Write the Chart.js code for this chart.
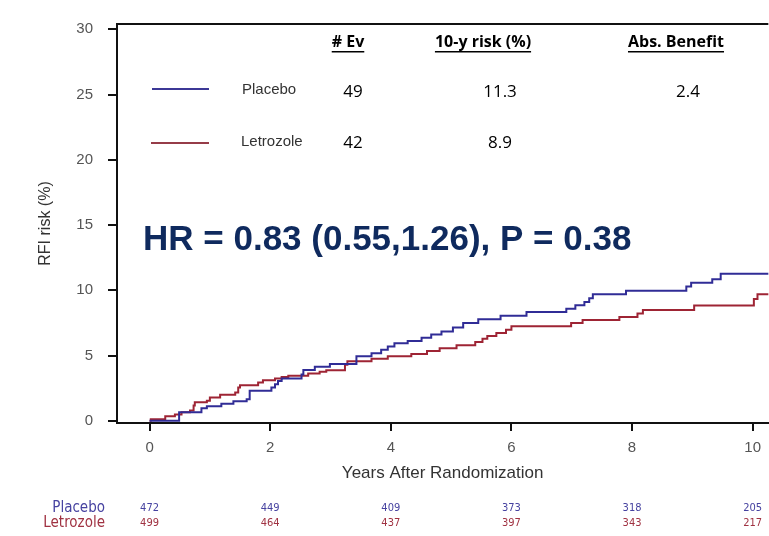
<!DOCTYPE html>
<html>
<head>
    <meta charset="utf-8">
    <title>RFI risk</title>
    <style>
        body { margin: 0; background: #fff; }
        .chart-box { width: 769px; height: 536px; position: relative; }
    </style>
</head>
<body>
    <div class="chart-box"><canvas id="km-chart"></canvas></div>

    <script src="https://cdn.jsdelivr.net/npm/chart.js@4.4.0/dist/chart.umd.min.js"></script>
    <script>
        // Kaplan-Meier curves (years, cumulative RFI risk %)
        var placeboTimes = [0, 0.49, 0.86, 0.95, 1.19, 1.39, 1.61, 1.66, 2.02, 2.08, 2.13, 2.19, 2.52, 2.55, 2.74, 2.99,
            3.43, 3.68, 3.84, 3.95, 4.06, 4.28, 4.51, 4.67, 4.84, 5.03, 5.20, 5.45, 5.82, 6.25, 6.91, 7.06, 7.21, 7.29,
            7.35, 7.90, 8.90, 8.98, 9.33, 9.47, 10.3];
        var placeboRisk = [0, 0.66, 0.97, 1.12, 1.30, 1.49, 1.65, 2.30, 2.55, 2.80, 3.05, 3.25, 3.55, 3.90, 4.15, 4.36,
            4.94, 5.18, 5.44, 5.69, 5.94, 6.12, 6.37, 6.62, 6.85, 7.15, 7.50, 7.78, 8.05, 8.33, 8.58, 8.85, 9.10, 9.40,
            9.70, 9.96, 10.30, 10.57, 10.84, 11.27, 11.27];

        var letrozoleTimes = [0, 0.02, 0.26, 0.42, 0.53, 0.67, 0.73, 0.75, 0.95, 1.00, 1.17, 1.42, 1.47, 1.50, 1.80, 1.88,
            2.08, 2.19, 2.30, 2.63, 2.82, 2.93, 3.24, 3.28, 3.68, 3.95, 4.34, 4.60, 4.81, 5.09, 5.40, 5.52, 5.60, 5.75,
            5.91, 6.00, 6.99, 7.18, 7.79, 8.09, 8.18, 9.03, 10.02, 10.08, 10.3];
        var letrozoleRisk = [0, 0.11, 0.34, 0.49, 0.66, 0.79, 1.17, 1.42, 1.54, 1.79, 2.00, 2.17, 2.55, 2.73, 2.93, 3.10,
            3.25, 3.35, 3.45, 3.63, 3.75, 3.88, 4.30, 4.56, 4.76, 4.94, 5.11, 5.35, 5.55, 5.78, 6.03, 6.28, 6.50, 6.73,
            6.98, 7.24, 7.50, 7.72, 7.95, 8.22, 8.50, 8.83, 9.33, 9.70, 9.70];

        var xTicks = [0, 2, 4, 6, 8, 10];
        var yTicks = [0, 5, 10, 15, 20, 25, 30];

        // number at risk
        var placeboAtRisk = [472, 449, 409, 373, 318, 205];
        var letrozoleAtRisk = [499, 464, 437, 397, 343, 217];

        // table in the plot
        var tableHeaders = ['# Ev', '10-y risk (%)', 'Abs. Benefit'];
        var placeboRow = ['49', '11.3', '2.4'];
        var letrozoleRow = ['42', '8.9', ''];
        var hrText = 'HR = 0.83 (0.55,1.26), P = 0.38';

        var blue = 'rgb(48, 44, 150)';
        var red = 'rgb(158, 36, 52)';

        function toPoints(times, values) {
            return times.map(function (t, i) { return { x: t, y: values[i] }; });
        }

        // everything drawn around the curves: frame top, legend, table, HR, at-risk numbers
        var extrasPlugin = {
            id: 'extras',
            afterDraw: function (chart) {
                var ctx = chart.ctx;
                var area = chart.chartArea;
                var xs = chart.scales.x;
                ctx.save();

                // top of the frame
                ctx.strokeStyle = '#111';
                ctx.lineWidth = 2;
                ctx.beginPath();
                ctx.moveTo(area.left - 1, area.top);
                ctx.lineTo(area.right, area.top);
                ctx.stroke();

                // legend
                ctx.lineWidth = 2;
                ctx.strokeStyle = 'rgb(60, 56, 150)';
                ctx.beginPath(); ctx.moveTo(152, 89); ctx.lineTo(209, 89); ctx.stroke();
                ctx.strokeStyle = 'rgb(150, 60, 72)';
                ctx.beginPath(); ctx.moveTo(151, 143); ctx.lineTo(209, 143); ctx.stroke();

                ctx.font = '15px "Liberation Sans", Arial, sans-serif';
                ctx.fillStyle = '#333';
                ctx.textAlign = 'left';
                ctx.textBaseline = 'middle';
                ctx.fillText('Placebo', 242, 90);
                ctx.fillText('Letrozole', 241, 142);

                // table headers (bold, underlined)
                var headerX = [348, 483, 676];
                var valueX = [353, 500, 688];
                ctx.font = 'bold 16px "Open Sans", sans-serif';
                ctx.fillStyle = '#000';
                ctx.textAlign = 'center';
                tableHeaders.forEach(function (h, i) {
                    ctx.fillText(h, headerX[i], 42);
                    var w = ctx.measureText(h).width;
                    ctx.fillRect(headerX[i] - w / 2, 51, w, 1.5);
                });
                ctx.font = '17px "Open Sans", sans-serif';
                placeboRow.forEach(function (v, i) { ctx.fillText(v, valueX[i], 92); });
                letrozoleRow.forEach(function (v, i) { ctx.fillText(v, valueX[i], 143); });

                // HR annotation
                ctx.font = 'bold 35px "Liberation Sans", Arial, sans-serif';
                ctx.fillStyle = '#0f2a5e';
                ctx.textAlign = 'left';
                ctx.fillText(hrText, 143, 240);

                // number at risk
                ctx.font = '15px "Liberation Sans Narrow", "DejaVu Sans Condensed", sans-serif';
                ctx.textAlign = 'right';
                ctx.fillStyle = 'rgb(70, 66, 160)';
                ctx.fillText('Placebo', 105, 508);
                ctx.fillStyle = 'rgb(160, 50, 66)';
                ctx.fillText('Letrozole', 105, 523);

                ctx.font = '11px "Liberation Sans Narrow", "DejaVu Sans Condensed", sans-serif';
                ctx.textAlign = 'center';
                xTicks.forEach(function (t, i) {
                    var px = xs.getPixelForValue(t);
                    ctx.fillStyle = 'rgb(70, 66, 160)';
                    ctx.fillText(placeboAtRisk[i], px, 508);
                    ctx.fillStyle = 'rgb(160, 50, 66)';
                    ctx.fillText(letrozoleAtRisk[i], px, 523);
                });

                ctx.restore();
            }
        };

        var kmChart = new Chart(document.getElementById('km-chart'), {
            type: 'line',
            data: {
                datasets: [{
                    label: 'Placebo',
                    data: toPoints(placeboTimes, placeboRisk),
                    borderColor: blue,
                    borderWidth: 2,
                    stepped: true,
                    pointRadius: 0,
                    fill: false
                }, {
                    label: 'Letrozole',
                    data: toPoints(letrozoleTimes, letrozoleRisk),
                    borderColor: red,
                    borderWidth: 2,
                    stepped: true,
                    pointRadius: 0,
                    fill: false
                }]
            },
            options: {
                responsive: true,
                maintainAspectRatio: false,
                animation: false,
                layout: { padding: { top: 17, right: 0, bottom: 0, left: 0 } },
                plugins: {
                    legend: { display: false },
                    tooltip: { enabled: false }
                },
                scales: {
                    x: {
                        type: 'linear',
                        min: -0.54,
                        max: 10.26,
                        afterBuildTicks: function (scale) {
                            scale.ticks = xTicks.map(function (v) { return { value: v }; });
                        },
                        afterFit: function (scale) { scale.height = 113; },
                        border: { display: true, color: '#111', width: 2 },
                        grid: { drawOnChartArea: false, drawTicks: true, tickLength: 8, color: '#111', lineWidth: 2 },
                        ticks: {
                            padding: 8,
                            maxRotation: 0,
                            color: '#555',
                            font: { family: '"Liberation Sans", Arial, sans-serif', size: 15 }
                        },
                        title: {
                            display: true,
                            text: 'Years After Randomization',
                            color: '#333',
                            font: { family: '"Liberation Sans", Arial, sans-serif', size: 17 },
                            padding: { top: 0, bottom: 52 }
                        }
                    },
                    y: {
                        type: 'linear',
                        min: -0.17,
                        max: 30.41,
                        afterBuildTicks: function (scale) {
                            scale.ticks = yTicks.map(function (v) { return { value: v }; });
                        },
                        afterFit: function (scale) { scale.width = 117; },
                        border: { display: true, color: '#111', width: 2 },
                        grid: { drawOnChartArea: false, drawTicks: true, tickLength: 9, color: '#111', lineWidth: 2 },
                        ticks: {
                            padding: 15,
                            color: '#555',
                            font: { family: '"Liberation Sans", Arial, sans-serif', size: 15 }
                        },
                        title: {
                            display: true,
                            text: 'RFI risk (%)',
                            color: '#333',
                            font: { family: '"Liberation Sans", Arial, sans-serif', size: 16 },
                            padding: { top: 36, bottom: 0 }
                        }
                    }
                }
            },
            plugins: [extrasPlugin]
        });
    </script>
</body>
</html>
